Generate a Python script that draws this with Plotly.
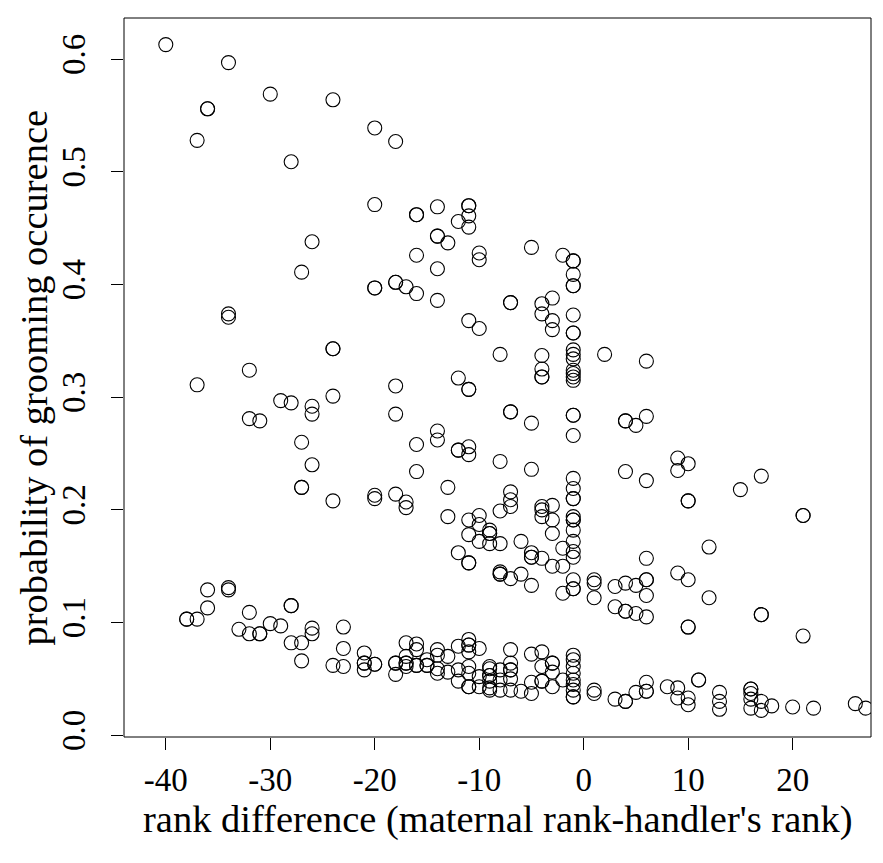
import plotly.graph_objects as go

# rank difference (maternal rank - handler's rank)
rank_diff = [
    -40, -34, -30, -24, -36, -36, -37, -28, -26, -27,
    -20, -18, -20, -14, -11, -11, -16, -16, -12, -11, -11, -14, -14, -13, -16, -10, -10, -14,
    -5, -2, -1, -1,
    -34, -34, -24, -24, -32, -37, -24, -29, -28, -26, -26, -32, -31, -27, -26, -27, -27, -24,
    -20, -20, -18, -18, -17, -16, -14, -11, -10, -12, -11, -11, -18, -18, -14, -14, -16, -12, -12, -11, -11, -16, -13, -20, -20, -18, -17, -17,
    -1, -1, -1, -7, -7, -4, -3, -4, -3, -3, -1, -1, -1, -8, -4, -4, -4, -4, -1, -1, -1, -1, -1, -1, -1, 2,
    -7, -7, -5, -1, -1, -1, 4, 4, -8, -5, 4, -1, -1, -1, -1, -7, -7, -7, -8, -4, -3,
    6, 5, 6, 9, 10, 9, 6, 17, 15, 10, 10,
    21, 21, 12, 6, 9, 10, 4, 5, 6, 6, 6, 12, 4, 4, 5, 6, 17, 17, 10, 10, 21,
    11, 11, 6, 6, 6, 5, 4, 4, 8, 9, 9, 10, 10, 13, 13, 13, 16, 16, 16, 16, 16, 17, 17, 18, 20, 22, 26, 27,
    -36, -34, -34, -36, -38, -38, -37, -32, -28, -28, -33, -32, -31, -31, -30, -29, -28, -27, -26, -26, -27, -23, -23, -24, -23,
    -21, -21, -21, -21, -20, -20, -18, -18, -18, -17, -17, -17, -17, -17, -16, -16, -16, -16, -15, -15, -15, -14, -14, -14, -14,
    -13, -13, -12, -12, -12, -11, -11, -11, -11, -11, -11, -11, -11, -10, -10, -10, -9, -9,
    -13, -11, -10, -10, -11, -10, -12, -11, -11,
    -4, -4, -3, -1, -1, -1, -1, -1, -1, -1, -3, -9, -9, -9, -9, -8, -6, -5, -5, -5, -4, -3, -2, -2,
    -8, -8, -8, -7, -6, -5, -1, -1, -1, -2, 1, 1, 1, 3, 3,
    -7, -5, -4, -7, -7, -7, -9, -9, -9, -9, -9, -8, -8, -8, -7, -7, -6, -5, -5, -4, -4, -4, -3, -3, -3, -3, -2,
    -1, -1, -1, -1, -1, -1, -1, -1, -1, 1, 1, 3,
]

# probability of grooming occurence
grooming_prob = [
    0.613, 0.597, 0.569, 0.564, 0.556, 0.556, 0.528, 0.509, 0.438, 0.411,
    0.539, 0.527, 0.471, 0.469, 0.470, 0.470, 0.462, 0.462, 0.456, 0.461, 0.451, 0.443, 0.443, 0.437, 0.426, 0.428, 0.422, 0.414,
    0.433, 0.426, 0.421, 0.421,
    0.374, 0.371, 0.343, 0.343, 0.324, 0.311, 0.301, 0.297, 0.295, 0.292, 0.285, 0.281, 0.279, 0.260, 0.240, 0.220, 0.220, 0.208,
    0.397, 0.397, 0.402, 0.402, 0.398, 0.392, 0.386, 0.368, 0.361, 0.317, 0.307, 0.307, 0.310, 0.285, 0.270, 0.262, 0.258, 0.253, 0.253, 0.256, 0.249, 0.234, 0.220, 0.213, 0.210, 0.214, 0.207, 0.202,
    0.409, 0.399, 0.399, 0.384, 0.384, 0.383, 0.388, 0.374, 0.368, 0.360, 0.373, 0.357, 0.357, 0.338, 0.337, 0.325, 0.318, 0.318, 0.342, 0.338, 0.334, 0.324, 0.321, 0.318, 0.315, 0.338,
    0.287, 0.287, 0.277, 0.284, 0.284, 0.266, 0.279, 0.279, 0.243, 0.236, 0.234, 0.228, 0.219, 0.210, 0.210, 0.216, 0.209, 0.203, 0.199, 0.203, 0.204,
    0.332, 0.275, 0.283, 0.246, 0.241, 0.235, 0.226, 0.230, 0.218, 0.208, 0.208,
    0.195, 0.195, 0.167, 0.157, 0.144, 0.138, 0.135, 0.133, 0.138, 0.138, 0.124, 0.122, 0.110, 0.110, 0.108, 0.105, 0.107, 0.107, 0.096, 0.096, 0.088,
    0.049, 0.049, 0.047, 0.039, 0.039, 0.038, 0.030, 0.030, 0.043, 0.042, 0.033, 0.033, 0.027, 0.038, 0.030, 0.023, 0.041, 0.041, 0.037, 0.032, 0.024, 0.030, 0.022, 0.026, 0.025, 0.024, 0.028, 0.024,
    0.129, 0.131, 0.129, 0.113, 0.103, 0.103, 0.103, 0.109, 0.115, 0.115, 0.094, 0.090, 0.090, 0.090, 0.099, 0.097, 0.082, 0.082, 0.095, 0.090, 0.066, 0.096, 0.077, 0.062, 0.061,
    0.073, 0.064, 0.064, 0.058, 0.063, 0.063, 0.064, 0.064, 0.054, 0.082, 0.070, 0.064, 0.064, 0.061, 0.081, 0.076, 0.062, 0.062, 0.067, 0.062, 0.062, 0.076, 0.071, 0.059, 0.055,
    0.070, 0.056, 0.079, 0.058, 0.048, 0.085, 0.080, 0.080, 0.074, 0.061, 0.055, 0.043, 0.043, 0.077, 0.052, 0.043, 0.059, 0.040,
    0.194, 0.191, 0.195, 0.187, 0.178, 0.172, 0.162, 0.153, 0.153,
    0.200, 0.194, 0.191, 0.194, 0.191, 0.191, 0.182, 0.172, 0.163, 0.158, 0.179, 0.182, 0.179, 0.179, 0.170, 0.170, 0.172, 0.162, 0.158, 0.158, 0.157, 0.150, 0.150, 0.166,
    0.145, 0.143, 0.143, 0.139, 0.143, 0.133, 0.138, 0.130, 0.130, 0.126, 0.138, 0.135, 0.122, 0.132, 0.114,
    0.076, 0.072, 0.074, 0.064, 0.058, 0.058, 0.061, 0.053, 0.053, 0.048, 0.042, 0.058, 0.049, 0.040, 0.050, 0.040, 0.039, 0.047, 0.037, 0.061, 0.048, 0.048, 0.064, 0.064, 0.056, 0.043, 0.049,
    0.071, 0.067, 0.061, 0.055, 0.049, 0.045, 0.040, 0.034, 0.034, 0.040, 0.037, 0.032,
]

x_ticks = [-40, -30, -20, -10, 0, 10, 20]
y_ticks = [0.0, 0.1, 0.2, 0.3, 0.4, 0.5, 0.6]

x_title = "rank difference (maternal rank-handler's rank)"
y_title = "probability of grooming occurence"

FONT = "Liberation Serif"
TICK_SIZE = 33
TITLE_SIZE = 38.5

fig = go.Figure()
fig.add_trace(go.Scatter(
    x=rank_diff, y=grooming_prob, mode="markers",
    marker=dict(symbol="circle-open", size=14, color="black", line=dict(width=1.1, color="black")),
    showlegend=False, hoverinfo="skip",
))

fig.add_shape(type="rect", xref="paper", yref="paper", x0=0, y0=0, x1=1, y1=1,
              line=dict(color="black", width=1))

fig.add_annotation(text=x_title, xref="paper", yref="paper", x=0.5, y=0,
                   xanchor="center", yanchor="middle", yshift=-82, showarrow=False,
                   font=dict(family=FONT, size=TITLE_SIZE, color="black"))
fig.add_annotation(text=y_title, xref="paper", yref="paper", x=0, y=0.5,
                   xanchor="center", yanchor="middle", xshift=-91, textangle=-90,
                   showarrow=False, font=dict(family=FONT, size=TITLE_SIZE, color="black"))

# page has an 8px body margin: figure is 875x855, offset by 8px
fig.update_layout(
    width=875, height=855,
    margin=dict(l=116, r=12, t=10, b=126, autoexpand=False),
    paper_bgcolor="white", plot_bgcolor="white",
    font=dict(family=FONT, size=TICK_SIZE, color="black"),
    xaxis=dict(range=[-44.0, 27.5], tickvals=x_ticks, ticktext=[f"{v:d}" for v in x_ticks],
               ticks="outside", ticklen=12, tickwidth=1, tickcolor="black",
               ticklabelstandoff=1,
               showgrid=False, zeroline=False, showline=False),
    yaxis=dict(range=[-0.0016, 0.6366], tickvals=y_ticks, ticktext=[f"{v:.1f}" for v in y_ticks],
               ticks="outside", ticklen=12, tickwidth=1, tickcolor="black", tickangle=-90,
               ticklabelstandoff=13,
               showgrid=False, zeroline=False, showline=False),
)

fig.write_html("out.html")
